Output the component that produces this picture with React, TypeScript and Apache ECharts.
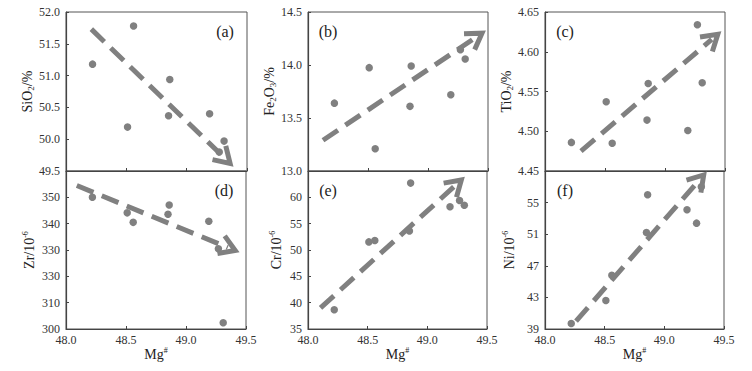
import React, { useEffect, useRef } from "react";
import * as echarts from "echarts";

const mg = [48.22, 48.51, 48.56, 48.86, 48.85, 49.19, 49.27, 49.31];
const sio2 = [51.18, 50.19, 51.78, 50.94, 50.37, 50.4, 49.8, 49.97];
const fe2o3 = [13.64, 13.975, 13.21, 13.99, 13.61, 13.72, 14.145, 14.057];
const tio2 = [4.486, 4.537, 4.485, 4.56, 4.514, 4.501, 4.634, 4.561];
const zr = [350.0, 344.1, 340.5, 347.1, 343.6, 340.9, 330.5, 302.4];
const cr = [38.66, 51.54, 51.8, 62.7, 53.6, 58.2, 59.4, 58.5];
const ni = [39.7, 42.6, 45.8, 56.0, 51.2, 54.1, 52.4, 57.0];

// trend arrows: [x1, y1, x2(tip), y2(tip)]
const arrowA = [48.21, 51.73, 49.36, 49.62];
const arrowB = [48.125, 13.29, 49.45, 14.3];
const arrowC = [48.3, 4.475, 49.44, 4.622];
const arrowD = [48.09, 354.5, 49.41, 329.8];
const arrowE = [48.105, 39.0, 49.285, 63.3];
const arrowF = [48.26, 40.0, 49.33, 58.5];

const zrTickLabels = ["300", "310", "330", "330", "340", "350", "360"];
const panelLetters = ["(a)", "(b)", "(c)", "(d)", "(e)", "(f)"];

const FONT = "'Liberation Serif', 'Times New Roman', serif";
const GRAY = "#808080";

export default function App() {
  const ref = useRef<HTMLDivElement>(null);
  useEffect(() => {
    document.body.style.margin = "0";
    const chart = echarts.init(ref.current!, null, { renderer: "svg" });

    const grids = [
      { left: 66, top: 12, width: 181, height: 159 },
      { left: 308, top: 12, width: 180, height: 159 },
      { left: 545, top: 12, width: 180, height: 159 },
      { left: 66, top: 171, width: 180, height: 158 },
      { left: 308, top: 171, width: 179, height: 158 },
      { left: 545, top: 171, width: 179, height: 158 },
    ].map((g) => ({ ...g, show: true, borderColor: "#555", borderWidth: 1 }));

    const yDefs = [
      { data: sio2, arrow: arrowA, min: 49.5, max: 52.0, interval: 0.5, fmt: (v: number) => v.toFixed(1), name: "SiO{sub|2}/%", gap: 31 },
      { data: fe2o3, arrow: arrowB, min: 13.0, max: 14.5, interval: 0.5, fmt: (v: number) => v.toFixed(1), name: "Fe{sub|2}O{sub|3}/%", gap: 26 },
      { data: tio2, arrow: arrowC, min: 4.45, max: 4.65, interval: 0.05, fmt: (v: number) => v.toFixed(2), name: "TiO{sub|2}/%", gap: 26 },
      { data: zr, arrow: arrowD, min: 300, max: 360, interval: 10, fmt: (v: number) => zrTickLabels[Math.round((v - 300) / 10)], name: "Zr/10{sup|-6}", gap: 29 },
      { data: cr, arrow: arrowE, min: 35, max: 65, interval: 5, fmt: (v: number) => String(Math.round(v)), name: "Cr/10{sup|-6}", gap: 24 },
      { data: ni, arrow: arrowF, min: 39, max: 59, interval: 4, fmt: (v: number) => String(Math.round(v)), name: "Ni/10{sup|-6}", gap: 28 },
    ];

    const rich = {
      sub: { fontFamily: FONT, fontSize: 9, color: "#222", verticalAlign: "bottom", lineHeight: 12 },
      sup: { fontFamily: FONT, fontSize: 8, color: "#222", verticalAlign: "top", lineHeight: 12 },
    };

    const xAxes = grids.map((_, i) => ({
      type: "value",
      gridIndex: i,
      min: 48.0,
      max: 49.5,
      interval: 0.5,
      axisLine: { lineStyle: { color: "#444", width: 1.2 } },
      axisTick: { inside: true, length: 3, lineStyle: { color: "#444" } },
      splitLine: { show: false },
      axisLabel: {
        show: i >= 3,
        fontFamily: FONT,
        fontSize: 12,
        color: "#333",
        margin: 5,
        formatter: (v: number) => v.toFixed(1),
      },
      name: i >= 3 ? "Mg{sup|#}" : "",
      nameLocation: "middle",
      nameGap: 17,
      nameTextStyle: { fontFamily: FONT, fontSize: 14, color: "#222", lineHeight: 16, rich },
    }));

    const yAxes = yDefs.map((d, i) => ({
      type: "value",
      gridIndex: i,
      min: d.min,
      max: d.max,
      interval: d.interval,
      axisLine: { lineStyle: { color: "#444", width: 1.2 } },
      axisTick: { inside: true, length: 3, lineStyle: { color: "#444" } },
      splitLine: { show: false },
      axisLabel: {
        fontFamily: FONT,
        fontSize: 12,
        color: "#333",
        margin: 6,
        showMaxLabel: i < 3,
        formatter: d.fmt,
      },
      name: d.name,
      nameLocation: "middle",
      nameGap: d.gap,
      nameRotate: 90,
      nameTextStyle: { fontFamily: FONT, fontSize: 14, color: "#222", lineHeight: 16, rich },
    }));

    const series: any[] = [];
    yDefs.forEach((d, i) => {
      series.push({
        type: "scatter",
        xAxisIndex: i,
        yAxisIndex: i,
        symbol: "circle",
        symbolSize: 7.5,
        itemStyle: { color: GRAY, opacity: 1 },
        data: mg.map((x, k) => [x, d.data[k]]),
        z: 3,
      });
      series.push({
        type: "custom",
        xAxisIndex: i,
        yAxisIndex: i,
        clip: false,
        encode: { x: [0, 2], y: [1, 3] },
        data: [d.arrow],
        z: 2,
        renderItem: (_params: any, api: any) => {
          const p1 = api.coord([api.value(0), api.value(1)]);
          const p2 = api.coord([api.value(2), api.value(3)]);
          const dx = p1[0] - p2[0];
          const dy = p1[1] - p2[1];
          const len = Math.sqrt(dx * dx + dy * dy);
          const ux = dx / len;
          const uy = dy / len;
          const arm = 18;
          const ang = (32 * Math.PI) / 180;
          const rot = (a: number) => [
            p2[0] + arm * (ux * Math.cos(a) - uy * Math.sin(a)),
            p2[1] + arm * (ux * Math.sin(a) + uy * Math.cos(a)),
          ];
          const endLine = [p2[0] + ux * 8, p2[1] + uy * 8];
          return {
            type: "group",
            children: [
              {
                type: "line",
                shape: { x1: p1[0], y1: p1[1], x2: endLine[0], y2: endLine[1] },
                style: { stroke: GRAY, lineWidth: 5, lineDash: [18, 9], fill: null },
              },
              {
                type: "polyline",
                shape: { points: [rot(ang), p2, rot(-ang)] },
                style: { stroke: GRAY, lineWidth: 5, fill: null, lineJoin: "miter" },
              },
            ],
          };
        },
      });
    });

    const labelPos = [
      [225, 31], [328, 31], [565, 31],
      [224, 190], [328, 190], [565, 190],
    ];
    const graphic = panelLetters.map((t, i) => ({
      type: "text",
      x: labelPos[i][0],
      y: labelPos[i][1],
      style: {
        text: t,
        fontFamily: FONT,
        fontSize: 16,
        fill: "#222",
        textAlign: "center",
        textVerticalAlign: "middle",
      },
      z: 10,
    }));

    chart.setOption({
      animation: false,
      backgroundColor: "#fff",
      grid: grids,
      xAxis: xAxes,
      yAxis: yAxes,
      series,
      graphic,
    });
    return () => chart.dispose();
  }, []);
  return <div ref={ref} style={{ width: 752, height: 371 }} />;
}
